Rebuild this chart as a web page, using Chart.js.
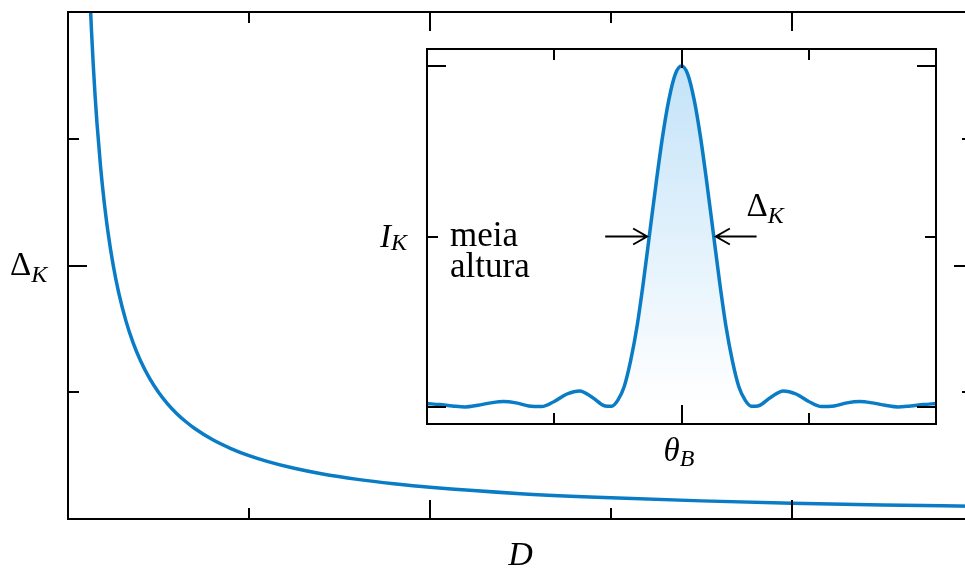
<!DOCTYPE html>
<html>
<head>
<meta charset="utf-8">
<script src="https://cdn.jsdelivr.net/npm/chart.js@4.4.0/dist/chart.umd.min.js"></script>
<style>
  html, body { margin: 0; padding: 0; background: #fff; overflow: hidden; }
  #wrap { position: relative; width: 985px; height: 568px; }
  #mainChart { position: absolute; left: 0; top: 0; }
  #insetChart { position: absolute; left: 360px; top: 30px; }
</style>
</head>
<body>
<div id="wrap">
  <canvas id="mainChart" width="985" height="568"></canvas>
  <canvas id="insetChart" width="600" height="460"></canvas>
</div>
<script>
// main plot: peak width against crystal size
const sizeD = [0.12, 0.13, 0.14, 0.15, 0.16, 0.18, 0.2, 0.22, 0.25, 0.28, 0.32, 0.36, 0.4, 0.45, 0.5, 0.55, 0.6,
    0.65, 0.7, 0.8, 0.9, 1.0, 1.1, 1.25, 1.4, 1.6, 1.8, 2.0, 2.5, 3.0, 3.5, 4.0, 4.5, 5.0];
const widthDelta = [4.167, 3.846, 3.571, 3.333, 3.125, 2.778, 2.5, 2.273, 2.0, 1.786, 1.563, 1.389, 1.25, 1.111, 1.0,
    0.909, 0.833, 0.769, 0.714, 0.625, 0.556, 0.5, 0.455, 0.4, 0.357, 0.3125, 0.278, 0.25, 0.2, 0.167, 0.143,
    0.125, 0.111, 0.1];
const mainXTicks = [1, 2, 3, 4];
const mainXMajor = [2, 4];
const mainYTicks = [1, 2, 3];
const mainYMajor = [2];

// inset: diffraction peak around theta_B
const theta = [-2.0, -1.9, -1.8, -1.7, -1.6, -1.5, -1.4, -1.3, -1.2, -1.1, -1.0, -0.9, -0.8, -0.7,
    -0.6, -0.55, -0.5, -0.45, -0.4, -0.35, -0.3, -0.25, -0.2, -0.15, -0.1, -0.05, 0,
    0.05, 0.1, 0.15, 0.2, 0.25, 0.3, 0.35, 0.4, 0.45, 0.5, 0.55, 0.6,
    0.7, 0.8, 0.9, 1.0, 1.1, 1.2, 1.3, 1.4, 1.5, 1.6, 1.7, 1.8, 1.9, 2.0];
const intensity = [0.01, 0.007, 0.003, 0.0, 0.005, 0.012, 0.016, 0.012, 0.003, 0.001, 0.016, 0.038, 0.047, 0.028,
    0.003, 0.002, 0.02, 0.06, 0.135, 0.235, 0.365, 0.51, 0.655, 0.79, 0.9, 0.975, 1.0,
    0.975, 0.9, 0.79, 0.655, 0.51, 0.365, 0.235, 0.135, 0.06, 0.02, 0.002, 0.003,
    0.028, 0.047, 0.038, 0.016, 0.001, 0.003, 0.012, 0.016, 0.012, 0.005, 0.0, 0.003, 0.007, 0.01];
const insetXTicks = [-1, 0, 1];
const insetXMajor = [0];
const insetYTicks = [0, 0.5, 1];
const insetYMajor = [0, 1];

const blue = '#0a7cc6';
const serif = '"Liberation Serif", "DejaVu Serif", serif';

function drawFrame(chart, xTicks, xMajor, yTicks, yMajor) {
    const ctx = chart.ctx;
    const a = chart.chartArea;
    const x = chart.scales.x, y = chart.scales.y;
    ctx.save();
    ctx.strokeStyle = '#000';
    ctx.lineWidth = 2;
    ctx.strokeRect(a.left, a.top, a.right - a.left, a.bottom - a.top);
    ctx.beginPath();
    xTicks.forEach(v => {
        const px = Math.round(x.getPixelForValue(v));
        const len = xMajor.includes(v) ? 19 : 11;
        ctx.moveTo(px, a.bottom); ctx.lineTo(px, a.bottom - len);
        ctx.moveTo(px, a.top); ctx.lineTo(px, a.top + len);
    });
    yTicks.forEach(v => {
        const py = Math.round(y.getPixelForValue(v));
        const len = yMajor.includes(v) ? 19 : 11;
        ctx.moveTo(a.left, py); ctx.lineTo(a.left + len, py);
        ctx.moveTo(a.right, py); ctx.lineTo(a.right - len, py);
    });
    ctx.stroke();
    ctx.restore();
}

function subText(ctx, base, sub, x, y, baseStyle, size, drop) {
    ctx.font = baseStyle + ' ' + size + 'px ' + serif;
    ctx.fillText(base, x, y);
    const w = ctx.measureText(base).width;
    ctx.font = 'italic ' + Math.round(size * 0.72) + 'px ' + serif;
    ctx.fillText(sub, x + w, y + drop);
}

function arrow(ctx, x0, x1, y) {
    const dir = x1 > x0 ? 1 : -1;
    ctx.beginPath();
    ctx.moveTo(x0, y); ctx.lineTo(x1, y);
    ctx.moveTo(x1 - dir * 14, y - 8); ctx.lineTo(x1, y); ctx.lineTo(x1 - dir * 14, y + 8);
    ctx.stroke();
}

const mainDecor = {
    id: 'mainDecor',
    afterDraw(chart) {
        drawFrame(chart, mainXTicks, mainXMajor, mainYTicks, mainYMajor);
        const ctx = chart.ctx;
        const a = chart.chartArea;
        ctx.save();
        ctx.fillStyle = '#000';
        ctx.textBaseline = 'alphabetic';
        subText(ctx, '\u0394', 'K', a.left - 58, chart.scales.y.getPixelForValue(2) + 9, 'normal', 33, 7);
        ctx.font = 'italic 34px ' + serif;
        ctx.textAlign = 'center';
        ctx.fillText('D', (a.left + a.right) / 2, a.bottom + 46);
        ctx.restore();
    }
};

const insetDecor = {
    id: 'insetDecor',
    afterDraw(chart) {
        drawFrame(chart, insetXTicks, insetXMajor, insetYTicks, insetYMajor);
        const ctx = chart.ctx;
        const a = chart.chartArea;
        const x = chart.scales.x, y = chart.scales.y;
        const half = y.getPixelForValue(0.5);
        ctx.save();
        ctx.fillStyle = '#000';
        ctx.strokeStyle = '#000';
        ctx.lineWidth = 2;
        subText(ctx, 'I', 'K', a.left - 47, half + 10, 'italic', 33, 3);
        ctx.font = '35px ' + serif;
        ctx.fillText('meia', a.left + 23, half + 9);
        ctx.fillText('altura', a.left + 23, half + 40);
        subText(ctx, '\u03b8', 'B', x.getPixelForValue(0) - 18, a.bottom + 37, 'italic', 33, 5);
        subText(ctx, '\u0394', 'K', x.getPixelForValue(0) + 65, half - 21, 'normal', 33, 7);
        arrow(ctx, x.getPixelForValue(-0.6), x.getPixelForValue(-0.27), half);
        arrow(ctx, x.getPixelForValue(0.59), x.getPixelForValue(0.27), half);
        ctx.restore();
    }
};

const baseOptions = (padding) => ({
    responsive: false,
    animation: false,
    events: [],
    layout: { padding: padding },
    plugins: { legend: { display: false }, tooltip: { enabled: false } },
    elements: { point: { radius: 0 } }
});

const mainConfig = {
    type: 'line',
    data: {
        datasets: [{
            data: sizeD.map((d, i) => ({ x: d, y: widthDelta[i] })),
            borderColor: blue,
            borderWidth: 3.5,
            cubicInterpolationMode: 'monotone',
            fill: false
        }]
    },
    options: Object.assign(baseOptions({ left: 68, top: 12, right: 12, bottom: 49 }), {
        scales: {
            x: { type: 'linear', min: 0, max: 5, display: false },
            y: { type: 'linear', min: 0, max: 4, display: false }
        }
    }),
    plugins: [mainDecor]
};

const insetConfig = {
    type: 'line',
    data: {
        datasets: [{
            data: theta.map((t, i) => ({ x: t, y: intensity[i] })),
            borderColor: blue,
            borderWidth: 3.5,
            cubicInterpolationMode: 'monotone',
            fill: 'origin',
            backgroundColor: function (c) {
                const chart = c.chart;
                if (!chart.chartArea) return 'rgba(0,0,0,0)';
                const y = chart.scales.y;
                const g = chart.ctx.createLinearGradient(0, y.getPixelForValue(1), 0, y.getPixelForValue(0));
                g.addColorStop(0, '#c4e3f8');
                g.addColorStop(1, '#ffffff');
                return g;
            }
        }]
    },
    options: Object.assign(baseOptions({ left: 67, top: 19, right: 24, bottom: 66 }), {
        scales: {
            x: { type: 'linear', min: -2, max: 2, display: false },
            y: { type: 'linear', min: -0.05, max: 1.05, display: false }
        }
    }),
    plugins: [insetDecor]
};

let mainChart = new Chart(document.getElementById('mainChart'), mainConfig);
let insetChart = new Chart(document.getElementById('insetChart'), insetConfig);
</script>
</body>
</html>
